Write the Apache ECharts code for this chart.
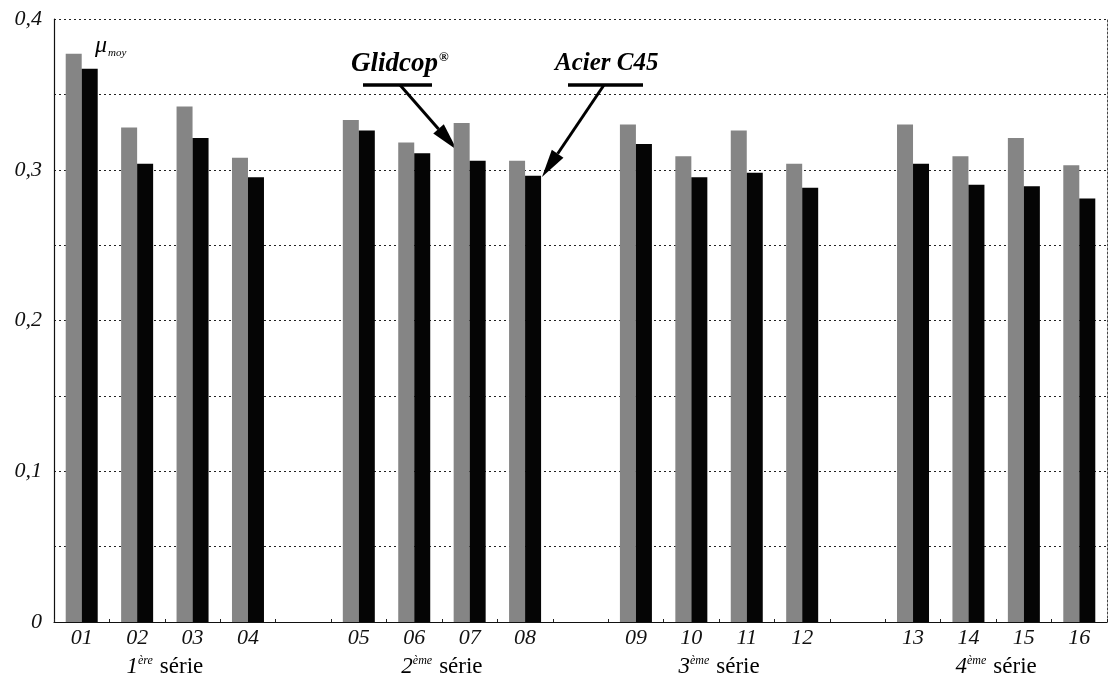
<!DOCTYPE html>
<html>
<head>
<meta charset="utf-8">
<script src="https://cdn.jsdelivr.net/npm/echarts@6.0.0/dist/echarts.min.js"></script>
<style>
  html, body { margin: 0; padding: 0; background: #ffffff; }
  #chart { width: 1110px; height: 679px; }
</style>
</head>
<body>
<div id="chart"></div>
<script>
// Mean friction coefficient per test, four test series of four runs each
const runs = ['01', '02', '03', '04', '05', '06', '07', '08',
              '09', '10', '11', '12', '13', '14', '15', '16'];
const glidcop = [0.377, 0.328, 0.342, 0.308, 0.333, 0.318, 0.331, 0.306,
                 0.330, 0.309, 0.326, 0.304, 0.330, 0.309, 0.321, 0.303];
const acierC45 = [0.367, 0.304, 0.321, 0.295, 0.326, 0.311, 0.306, 0.296,
                  0.317, 0.295, 0.298, 0.288, 0.304, 0.290, 0.289, 0.281];
const groupOrdinals = ['1', '2', '3', '4'];
const groupSuffixes = ['ère', 'ème', 'ème', 'ème'];
const yTickValues = [0, 0.1, 0.2, 0.3, 0.4];
const runsPerGroup = 4;

const SERIF = '"Liberation Serif", "DejaVu Serif", serif';

// Category slots: one empty slot between consecutive series
const slots = [], glidcopSlots = [], acierSlots = [];
runs.forEach((r, i) => {
  if (i > 0 && i % runsPerGroup === 0) {
    slots.push('gap' + i);
    glidcopSlots.push('-');
    acierSlots.push('-');
  }
  slots.push(r);
  glidcopSlots.push(glidcop[i]);
  acierSlots.push(acierC45[i]);
});

const chart = echarts.init(document.getElementById('chart'), null, { renderer: 'canvas' });

const option = {
  backgroundColor: '#ffffff',
  animation: false,
  grid: { left: 54, right: 3, top: 19, bottom: 57 },
  xAxis: {
    type: 'category',
    data: slots,
    boundaryGap: true,
    axisLine: { show: true, lineStyle: { color: '#111', width: 1.2 } },
    axisTick: { show: true, inside: true, length: 3, lineStyle: { color: '#222' } },
    axisLabel: {
      interval: 0,
      margin: 5,
      fontFamily: SERIF,
      fontStyle: 'italic',
      fontSize: 22,
      color: '#111',
      formatter: v => (v.indexOf('gap') === 0 ? '' : v)
    }
  },
  yAxis: [{
    type: 'value',
    min: 0,
    max: 0.4,
    interval: 0.05,
    axisLine: { show: true, lineStyle: { color: '#111', width: 1.2 } },
    axisTick: { show: false },
    splitLine: { show: true, lineStyle: { color: '#222', width: 1, type: [2, 3] } },
    axisLabel: {
      margin: 12,
      fontFamily: SERIF,
      fontStyle: 'italic',
      fontSize: 22,
      color: '#111',
      formatter: v => {
        const hundredths = Math.round(v * 100);
        if (hundredths % 10 !== 0) return '';
        const t = yTickValues.find(x => Math.round(x * 100) === hundredths);
        if (t === undefined) return '';
        return t === 0 ? '0' : t.toFixed(1).replace('.', ',');
      }
    }
  }, {
    type: 'value',
    position: 'right',
    min: 0,
    max: 0.4,
    interval: 0.05,
    axisLine: { show: true, lineStyle: { color: '#444', width: 1, type: [2, 2] } },
    axisTick: { show: false },
    axisLabel: { show: false },
    splitLine: { show: false }
  }],
  series: [{
    name: 'Glidcop®',
    type: 'bar',
    data: glidcopSlots,
    barWidth: 16,
    barGap: '0%',
    itemStyle: { color: '#858585' }
  }, {
    name: 'Acier C45',
    type: 'bar',
    data: acierSlots,
    barWidth: 16,
    barGap: '0%',
    itemStyle: { color: '#050505' }
  }]
};

chart.setOption(option);

// Arrow made of a shaft and a filled triangular head
function arrow(x1, y1, x2, y2, headLen, headHalf) {
  const dx = x2 - x1, dy = y2 - y1;
  const len = Math.sqrt(dx * dx + dy * dy);
  const ux = dx / len, uy = dy / len;
  const bx = x2 - ux * headLen, by = y2 - uy * headLen;
  const px = -uy, py = ux;
  return [{
    type: 'line',
    shape: { x1: x1, y1: y1, x2: bx, y2: by },
    style: { stroke: '#000', lineWidth: 3 }
  }, {
    type: 'polygon',
    shape: { points: [[x2, y2], [bx + px * headHalf, by + py * headHalf], [bx - px * headHalf, by - py * headHalf]] },
    style: { fill: '#000' }
  }];
}

const supRich = {
  num: { fontFamily: SERIF, fontStyle: 'italic', fontSize: 23, color: '#111' },
  sup: { fontFamily: SERIF, fontStyle: 'italic', fontSize: 12, color: '#111', verticalAlign: 'top', padding: [0, 0, 13, 0] },
  word: { fontFamily: SERIF, fontSize: 23, color: '#111', padding: [0, 0, 0, 7] }
};

const graphics = [];

// Series names centred under each group of runs
groupOrdinals.forEach((ord, g) => {
  const first = chart.convertToPixel({ xAxisIndex: 0 }, runs[g * runsPerGroup]);
  const last = chart.convertToPixel({ xAxisIndex: 0 }, runs[g * runsPerGroup + runsPerGroup - 1]);
  graphics.push({
    type: 'text',
    x: (first + last) / 2,
    y: 667,
    style: {
      text: '{num|' + ord + '}{sup|' + groupSuffixes[g] + '}{word|série}',
      rich: supRich,
      align: 'center',
      verticalAlign: 'middle'
    }
  });
});

// Quantity symbol
graphics.push({
  type: 'text',
  x: 95,
  y: 46,
  style: {
    text: '{mu|μ}{sub|moy}',
    rich: {
      mu: { fontFamily: SERIF, fontStyle: 'italic', fontSize: 24, color: '#111' },
      sub: { fontFamily: SERIF, fontStyle: 'italic', fontSize: 11, color: '#111', padding: [14, 0, 0, 1] }
    },
    align: 'left',
    verticalAlign: 'middle'
  }
});

// Material annotations with underline and pointer
graphics.push({
  type: 'text',
  x: 351,
  y: 64,
  style: {
    text: '{t|Glidcop}{s|®}',
    rich: {
      t: { fontFamily: SERIF, fontStyle: 'italic', fontWeight: 'bold', fontSize: 27, color: '#000' },
      s: { fontFamily: SERIF, fontStyle: 'italic', fontWeight: 'bold', fontSize: 13, color: '#000', padding: [0, 0, 13, 1] }
    },
    align: 'left',
    verticalAlign: 'middle'
  }
});
graphics.push({
  type: 'text',
  x: 555,
  y: 64,
  style: {
    text: 'Acier C45',
    fontFamily: SERIF,
    fontStyle: 'italic',
    fontWeight: 'bold',
    fontSize: 25,
    fill: '#000',
    align: 'left',
    verticalAlign: 'middle'
  }
});
graphics.push({ type: 'line', shape: { x1: 363, y1: 85, x2: 432, y2: 85 }, style: { stroke: '#000', lineWidth: 3.5 } });
graphics.push({ type: 'line', shape: { x1: 568, y1: 85, x2: 643, y2: 85 }, style: { stroke: '#000', lineWidth: 3.5 } });
arrow(400, 85, 457, 150, 28, 7).forEach(e => graphics.push(e));
arrow(604, 85, 542, 177, 28, 7).forEach(e => graphics.push(e));

chart.setOption({ graphic: { elements: graphics } });
</script>
</body>
</html>
